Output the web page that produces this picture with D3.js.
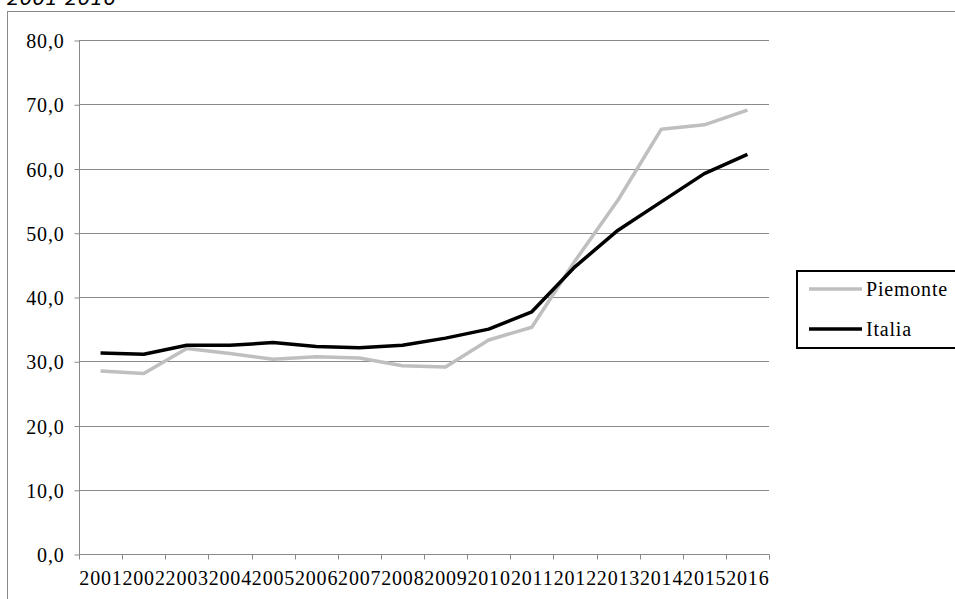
<!DOCTYPE html>
<html><head><meta charset="utf-8">
<script src="https://cdn.jsdelivr.net/npm/d3@7/dist/d3.min.js"></script>
<style>body{margin:0;background:#fff;}svg{display:block;}</style>
</head><body>
<script>
const years = ["2001","2002","2003","2004","2005","2006","2007","2008","2009","2010","2011","2012","2013","2014","2015","2016"];
const piemonte = [28.5,28.1,32.0,31.2,30.3,30.7,30.5,29.3,29.1,33.3,35.3,45.6,55.1,66.1,66.8,69.1];
const italia = [31.3,31.1,32.5,32.5,32.9,32.3,32.1,32.5,33.6,35.0,37.7,44.7,50.4,54.8,59.2,62.2];
const yTicks = [0,10,20,30,40,50,60,70,80];
const seriesNames = ["Piemonte","Italia"];
const seriesColors = ["#bfbfbf","#000000"];

(function(){
const W=955,H=599;
const svg=d3.select("body").append("svg").attr("width",W).attr("height",H);

// frame
svg.append("rect").attr("x",7.5).attr("y",11.5).attr("width",1000).attr("height",1000)
  .attr("fill","none").attr("stroke","#898989").attr("stroke-width",1);
// title (cut off at the top as in the reference)
svg.append("text").attr("x",7).attr("y",5).attr("font-family","DejaVu Sans").attr("font-style","italic")
  .attr("font-size",20).attr("fill","#000").text("2001-2016");

const pL=79,pR=769,pT=40,pB=554;
const x=d3.scaleBand().domain(years).range([pL,pR]);
const y=d3.scaleLinear().domain([0,80]).range([pB,pT]);

// gridlines
svg.append("g").selectAll("line").data(yTicks.filter(d=>d>0)).join("line")
  .attr("x1",pL).attr("x2",pR).attr("y1",d=>Math.round(y(d))+0.5).attr("y2",d=>Math.round(y(d))+0.5)
  .attr("stroke","#898989").attr("stroke-width",1);

// y axis
const yAxis=svg.append("g").attr("transform",`translate(${pL+0.5},0.5)`)
  .call(d3.axisLeft(y).tickValues(yTicks).tickSize(5).tickPadding(10).tickFormat(d=>d3.format(".1f")(d).replace(".",",")));
yAxis.select(".domain").attr("stroke","#898989").attr("d",`M0,${y(80)}V${y(0)}`);
yAxis.selectAll(".tick line").attr("stroke","#898989");
yAxis.selectAll(".tick text").attr("font-family","Liberation Serif").attr("font-size",20)
  .attr("letter-spacing","0.8px").attr("fill","#000").attr("dy","0.36em");

// x axis
const xg=svg.append("g").attr("transform",`translate(0,${Math.round(pB)+0.5})`);
xg.append("line").attr("x1",pL).attr("x2",pR+0.5).attr("stroke","#898989");
const bounds=years.map(d=>x(d)).concat([x(years[years.length-1])+x.bandwidth()]);
xg.selectAll("line.t").data(bounds).join("line").attr("class","t")
  .attr("x1",d=>Math.round(d)+0.5).attr("x2",d=>Math.round(d)+0.5).attr("y1",0).attr("y2",5).attr("stroke","#898989");
xg.selectAll("text").data(years).join("text")
  .attr("x",d=>x(d)+x.bandwidth()/2+0.4).attr("y",30).attr("text-anchor","middle")
  .attr("font-family","Liberation Serif").attr("font-size",20).attr("letter-spacing","0.8px")
  .attr("fill","#000").text(d=>d);

// lines
const line=d3.line().x((d,i)=>x(years[i])+x.bandwidth()/2).y(d=>y(d));
[piemonte,italia].forEach((s,k)=>{
  svg.append("path").datum(s).attr("d",line).attr("fill","none")
    .attr("stroke",seriesColors[k]).attr("stroke-width",3.5).attr("stroke-linejoin","round").attr("stroke-linecap","butt");
});

// legend
const lg=svg.append("g");
lg.append("rect").attr("x",797).attr("y",271).attr("width",170).attr("height",77)
  .attr("fill","#fff").attr("stroke","#000").attr("stroke-width",2);
seriesNames.forEach((n,k)=>{
  const cy=289+k*40;
  lg.append("line").attr("x1",809).attr("x2",862).attr("y1",cy).attr("y2",cy).attr("stroke",seriesColors[k]).attr("stroke-width",3.5);
  lg.append("text").attr("x",866).attr("y",cy+7).attr("font-family","Liberation Serif").attr("font-size",20)
    .attr("letter-spacing","0.8px").attr("fill","#000").text(n);
});
})();
</script>
</body></html>
